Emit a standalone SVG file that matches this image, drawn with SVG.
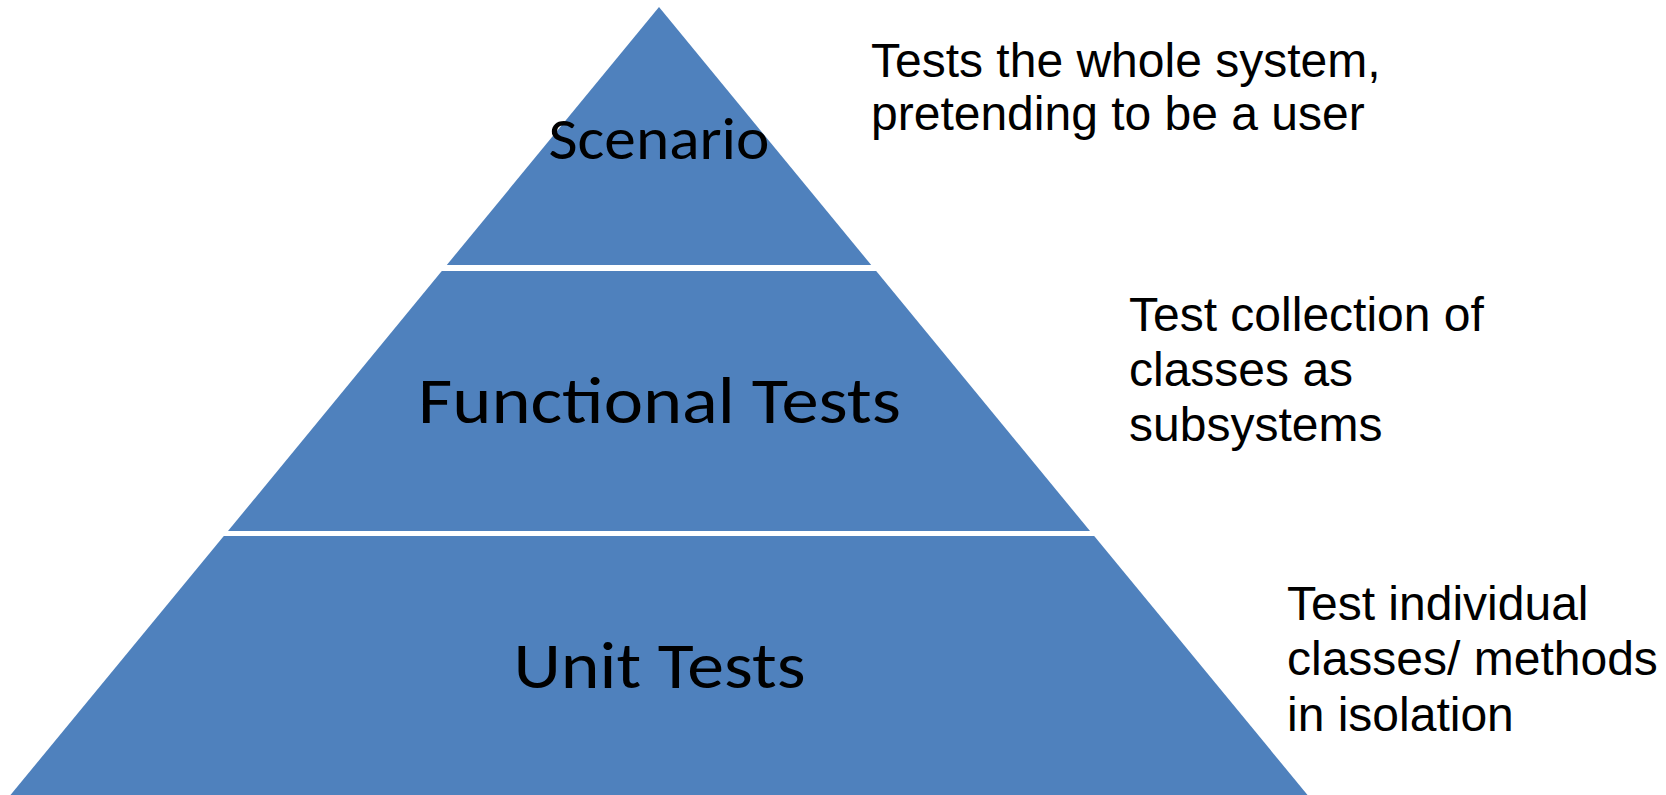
<svg xmlns="http://www.w3.org/2000/svg" width="1666" height="795" viewBox="0 0 1666 795">
  <style>
    .layer { fill: #4F81BD; stroke: none; }
    .lbl { font-family: Carlito, Calibri, Lato, "Open Sans", sans-serif; fill: #000000; text-anchor: middle; }
    .desc { font-family: "Liberation Sans", Arial, sans-serif; font-size: 48px; fill: #000000; }
  </style>
  <rect x="0" y="0" width="1666" height="795" fill="#FFFFFF"/>
  <g id="connectors"/>
  <g id="scenario">
    <polygon class="layer" points="659,7 871.2,265 446.8,265"/>
    <text class="lbl" x="659" y="159" font-size="59" textLength="221" lengthAdjust="spacingAndGlyphs">Scenario</text>
  </g>
  <g id="functional">
    <polygon class="layer" points="441.8,271 876.2,271 1090,531 228,531"/>
    <text class="lbl" x="659.5" y="423" font-size="66" textLength="483" lengthAdjust="spacingAndGlyphs">Functional Tests</text>
  </g>
  <g id="unit">
    <polygon class="layer" points="223.8,536 1094.2,536 1310,798 8,798"/>
    <text class="lbl" x="659.5" y="688" font-size="65" textLength="292" lengthAdjust="spacingAndGlyphs">Unit Tests</text>
  </g>
  <g id="desc-scenario">
    <text class="desc" x="871" y="77">Tests the whole system,</text>
    <text class="desc" x="871" y="130">pretending to be a user</text>
  </g>
  <g id="desc-functional">
    <text class="desc" x="1129" y="331">Test collection of</text>
    <text class="desc" x="1129" y="386">classes as</text>
    <text class="desc" x="1129" y="441">subsystems</text>
  </g>
  <g id="desc-unit">
    <text class="desc" x="1287" y="620">Test individual</text>
    <text class="desc" x="1287" y="675">classes/ methods</text>
    <text class="desc" x="1287" y="731">in isolation</text>
  </g>
</svg>
